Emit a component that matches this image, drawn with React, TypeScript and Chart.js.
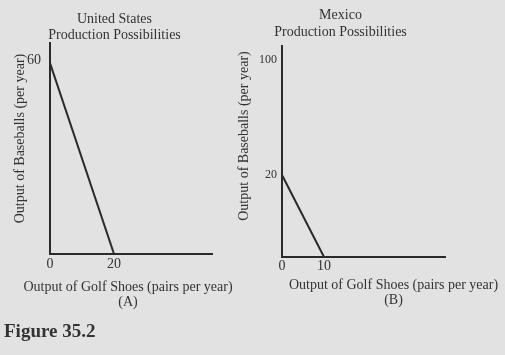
import { useEffect, useRef } from "react";
import { Chart, registerables } from "chart.js";

Chart.register(...registerables);

const FONT = "'Liberation Serif', 'Times New Roman', serif";
const TEXT = "#333333";
const INK = "#2a2a2a";
const BG = "#e2e2e2";

// ---- Panel A: United States ----
const usGolfShoes = [0, 20];
const usBaseballs = [60, 0];
const usXTickValues = [0, 20];
const usYTickValues = [60];
const usYTickLabels = ["60"];
const usTitle = ["United States", "Production Possibilities"];
const usXTitle = ["Output of Golf Shoes (pairs per year)", "(A)"];

// ---- Panel B: Mexico ----
const mexGolfShoes = [0, 10];
const mexBaseballs = [20, 0];
const mexXTickValues = [0, 10];
// The original axis is not to scale above 20: its "100" mark sits near the top.
const mexYTickValues = [20, 48];
const mexYTickLabels = ["20", "100"];
const mexTitle = ["Mexico", "Production Possibilities"];
const mexXTitle = ["Output of Golf Shoes (pairs per year)", "(B)"];

const yTitle = "Output of Baseballs (per year)";
const figureLabel = "Figure 35.2";

type TextBlock = {
  lines: string[];
  x: number;
  y: number;
  size: number;
  lineHeight: number;
  weight?: string;
  align?: CanvasTextAlign;
  rotate?: boolean;
};

function textPlugin(blocks: TextBlock[]) {
  return {
    id: "textBlocks",
    afterDraw(chart: Chart) {
      const { ctx } = chart;
      blocks.forEach((b) => {
        ctx.save();
        ctx.font = `${b.weight ?? "normal"} ${b.size}px ${FONT}`;
        ctx.fillStyle = TEXT;
        ctx.textAlign = b.align ?? "center";
        ctx.textBaseline = "alphabetic";
        ctx.translate(b.x, b.y);
        if (b.rotate) ctx.rotate(-Math.PI / 2);
        b.lines.forEach((line, i) => ctx.fillText(line, 0, i * b.lineHeight));
        ctx.restore();
      });
    },
  };
}

type Panel = {
  canvasLeft: number;
  canvasW: number;
  canvasH: number;
  area: { left: number; top: number; right: number; bottom: number };
  shoes: number[];
  baseballs: number[];
  xMax: number;
  yMax: number;
  xTicks: number[];
  yTicks: number[];
  yLabels: string[];
  xTickSize: number;
  yTickSize: number;
  xTickPad: number;
  yTickPad: number;
  yLabelOffset: number;
  blocks: TextBlock[];
};

const X_AXIS_H = 30;

const panelA: Panel = {
  canvasLeft: 0,
  canvasW: 240,
  canvasH: 355,
  area: { left: 50, top: 43, right: 212, bottom: 254 },
  shoes: usGolfShoes,
  baseballs: usBaseballs,
  xMax: 50.6,
  yMax: 66.3,
  xTicks: usXTickValues,
  yTicks: usYTickValues,
  yLabels: usYTickLabels,
  xTickSize: 14,
  yTickSize: 14,
  xTickPad: 2,
  yTickPad: 9,
  yLabelOffset: -3,
  blocks: [
    { lines: usTitle, x: 114.5, y: 22.7, size: 14, lineHeight: 16.3 },
    { lines: [yTitle], x: 23.5, y: 138.5, size: 14, lineHeight: 16, rotate: true },
    { lines: usXTitle, x: 128, y: 290.5, size: 14, lineHeight: 15 },
    { lines: [figureLabel], x: 4, y: 337, size: 19, lineHeight: 20, weight: "bold", align: "left" },
  ],
};

const B_LEFT = 232;
const panelB: Panel = {
  canvasLeft: B_LEFT,
  canvasW: 505 - B_LEFT,
  canvasH: 355,
  area: { left: 282 - B_LEFT, top: 46, right: 445 - B_LEFT, bottom: 257 },
  shoes: mexGolfShoes,
  baseballs: mexBaseballs,
  xMax: 38.8,
  yMax: 51.5,
  xTicks: mexXTickValues,
  yTicks: mexYTickValues,
  yLabels: mexYTickLabels,
  xTickSize: 14,
  yTickSize: 12,
  xTickPad: 1,
  yTickPad: 5,
  yLabelOffset: 0,
  blocks: [
    { lines: mexTitle, x: 340.5 - B_LEFT, y: 19.3, size: 14, lineHeight: 16.3 },
    { lines: [yTitle], x: 247.5 - B_LEFT, y: 136, size: 14, lineHeight: 16, rotate: true },
    { lines: mexXTitle, x: 393.5 - B_LEFT, y: 288.5, size: 14, lineHeight: 15 },
  ],
};

function PanelChart({ p }: { p: Panel }) {
  const ref = useRef<HTMLCanvasElement | null>(null);
  useEffect(() => {
    if (!ref.current) return;
    const chart = new Chart(ref.current, {
      type: "line",
      data: {
        datasets: [
          {
            data: p.shoes.map((x, i) => ({ x, y: p.baseballs[i] })),
            borderColor: INK,
            borderWidth: 2,
            pointRadius: 0,
            tension: 0,
            fill: false,
          },
        ],
      },
      options: {
        responsive: false,
        animation: false,
        events: [],
        layout: {
          padding: {
            left: 0,
            top: p.area.top,
            right: p.canvasW - p.area.right,
            bottom: p.canvasH - p.area.bottom - X_AXIS_H,
          },
        },
        plugins: {
          legend: { display: false },
          tooltip: { enabled: false },
          title: { display: false },
        },
        scales: {
          x: {
            type: "linear",
            min: 0,
            max: p.xMax,
            grid: { display: false, drawTicks: false },
            border: { display: true, color: INK, width: 2 },
            ticks: {
              font: { family: FONT, size: p.xTickSize },
              color: TEXT,
              padding: p.xTickPad,
              maxRotation: 0,
              autoSkip: false,
            },
            afterBuildTicks: (s: any) => {
              s.ticks = p.xTicks.map((v) => ({ value: v }));
            },
            afterFit: (s: any) => {
              s.height = X_AXIS_H;
            },
          },
          y: {
            type: "linear",
            min: 0,
            max: p.yMax,
            grid: { display: false, drawTicks: false },
            border: { display: true, color: INK, width: 2 },
            ticks: {
              font: { family: FONT, size: p.yTickSize },
              color: TEXT,
              padding: p.yTickPad,
              labelOffset: p.yLabelOffset,
              autoSkip: false,
              callback: (v: any) => {
                const i = p.yTicks.indexOf(Number(v));
                return i >= 0 ? p.yLabels[i] : "";
              },
            },
            afterBuildTicks: (s: any) => {
              s.ticks = p.yTicks.map((v) => ({ value: v }));
            },
            afterFit: (s: any) => {
              s.width = p.area.left;
            },
          },
        },
      },
      plugins: [textPlugin(p.blocks)],
    });
    return () => chart.destroy();
  }, [p]);
  return (
    <canvas
      ref={ref}
      width={p.canvasW}
      height={p.canvasH}
      style={{
        position: "absolute",
        left: p.canvasLeft,
        top: 0,
        width: p.canvasW,
        height: p.canvasH,
      }}
    />
  );
}

export default function App() {
  return (
    <div
      style={{
        position: "absolute",
        left: 0,
        top: 0,
        width: 505,
        height: 355,
        background: BG,
        overflow: "hidden",
      }}
    >
      <PanelChart p={panelA} />
      <PanelChart p={panelB} />
    </div>
  );
}
